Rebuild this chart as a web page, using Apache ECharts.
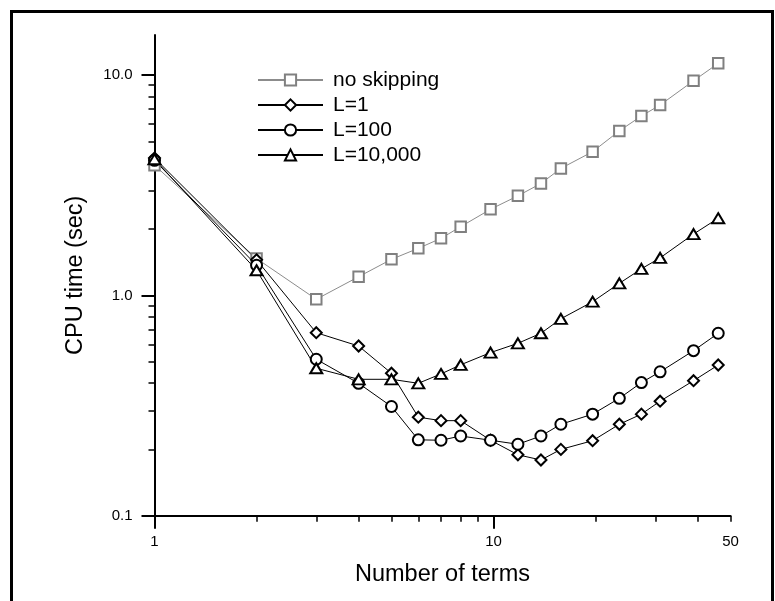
<!DOCTYPE html>
<html>
<head>
<meta charset="utf-8">
<script src="https://cdn.jsdelivr.net/npm/echarts@6/dist/echarts.min.js"></script>
<style>
html,body{margin:0;padding:0;background:#fff;}
#chart{width:775px;height:601px;}
</style>
</head>
<body>
<div id="chart"></div>
<script>
// ---- data ----
var seriesNames = ['no skipping', 'L=1', 'L=100', 'L=10,000'];
var xValues = [1, 2, 3, 4, 5, 6, 7, 8, 9.8, 11.8, 13.8, 15.8, 19.6, 23.5, 27.3, 31, 38.9, 46];
var noSkipping = [3.9, 1.47, 0.96, 1.215, 1.458, 1.635, 1.815, 2.05, 2.46, 2.83, 3.22, 3.77, 4.49, 5.58, 6.52, 7.31, 9.42, 11.3];
var L1 = [4.2, 1.45, 0.677, 0.589, 0.443, 0.28, 0.27, 0.27, 0.22, 0.189, 0.179, 0.2, 0.219, 0.26, 0.289, 0.331, 0.41, 0.483];
var L100 = [4.1, 1.37, 0.513, 0.399, 0.313, 0.221, 0.22, 0.23, 0.22, 0.211, 0.23, 0.26, 0.289, 0.341, 0.402, 0.45, 0.561, 0.673];
var L10000 = [4.15, 1.3, 0.467, 0.416, 0.416, 0.399, 0.44, 0.484, 0.55, 0.606, 0.673, 0.783, 0.936, 1.134, 1.32, 1.48, 1.898, 2.24];

var xRange = [1, 50];
var yRange = [0.1, 15.2];
var xMinorTicks = [2, 3, 4, 5, 6, 7, 8, 9, 20, 30, 40, 50];
var xMajorTicks = [1, 10];
var xTickLabels = [1, 10, 50];
var yMinorTicks = [0.2, 0.3, 0.4, 0.5, 0.6, 0.7, 0.8, 0.9, 2, 3, 4, 5, 6, 7, 8, 9];
var yMajorTicks = [0.1, 1, 10];
var yTickLabels = [0.1, 1, 10];

// ---- chart ----
var FONT = "'Liberation Sans', Arial, Helvetica, sans-serif";
var lg = function (v) { return Math.log10(v); };
function pts(ys) { return xValues.map(function (x, i) { return [lg(x), lg(ys[i])]; }); }

var chart = echarts.init(document.getElementById('chart'), null, { renderer: 'canvas' });

var baseX = { type: 'value', min: lg(xRange[0]), max: lg(xRange[1]), gridIndex: 0, position: 'bottom', splitLine: { show: false } };
var baseY = { type: 'value', min: lg(yRange[0]), max: lg(yRange[1]), gridIndex: 0, position: 'left', splitLine: { show: false } };

function markerSeries(name, ys, symbol, size, color, lineColor) {
  return {
    name: name, type: 'line', data: pts(ys), symbol: symbol, symbolSize: size,
    showSymbol: true, showAllSymbol: true, smooth: false,
    lineStyle: { color: lineColor, width: 1 },
    itemStyle: { color: '#fff', borderColor: color, borderWidth: 2 },
    emphasis: { disabled: true }
  };
}

chart.setOption({
  animation: false,
  backgroundColor: '#fff',
  textStyle: { fontFamily: FONT },
  grid: { left: 154.5, right: 44.5, top: 35, bottom: 85.3, containLabel: false },
  legend: {
    data: seriesNames, orient: 'vertical', left: 257, top: 69.5, padding: 0,
    itemWidth: 65, itemHeight: 14, itemGap: 4,
    textStyle: { fontSize: 21, fontFamily: FONT, color: '#000', lineHeight: 21, padding: [0, 0, 0, 5] },
    selectedMode: false
  },
  xAxis: [
    Object.assign({}, baseX, {
      axisLine: { show: true, onZero: false, lineStyle: { color: '#000', width: 2 } },
      axisTick: { show: true, customValues: xMinorTicks.map(lg), length: 6, lineStyle: { color: '#000', width: 1.5 } },
      axisLabel: { show: false },
      name: 'Number of terms', nameLocation: 'middle', nameGap: 47,
      nameTextStyle: { fontSize: 23.5, fontFamily: FONT, color: '#000' }
    }),
    Object.assign({}, baseX, {
      axisLine: { show: false, onZero: false },
      axisTick: { show: true, customValues: xMajorTicks.map(lg), length: 13, lineStyle: { color: '#000', width: 2 } },
      axisLabel: { show: true, customValues: xTickLabels.map(lg), margin: 19, fontSize: 15, fontFamily: FONT, color: '#000',
        formatter: function (v) { return String(Math.round(Math.pow(10, v))); } }
    })
  ],
  yAxis: [
    Object.assign({}, baseY, {
      axisLine: { show: true, onZero: false, lineStyle: { color: '#000', width: 2 } },
      axisTick: { show: true, customValues: yMinorTicks.map(lg), length: 6, lineStyle: { color: '#000', width: 1.5 } },
      axisLabel: { show: false },
      name: 'CPU time (sec)', nameLocation: 'middle', nameGap: 67,
      nameTextStyle: { fontSize: 23.5, fontFamily: FONT, color: '#000' }
    }),
    Object.assign({}, baseY, {
      axisLine: { show: false, onZero: false },
      axisTick: { show: true, customValues: yMajorTicks.map(lg), length: 13, lineStyle: { color: '#000', width: 2 } },
      axisLabel: { show: true, customValues: yTickLabels.map(lg), margin: 22, fontSize: 15, fontFamily: FONT, color: '#000',
        formatter: function (v) { return Math.pow(10, v).toFixed(1); } }
    })
  ],
  series: [
    markerSeries(seriesNames[0], noSkipping, 'rect', 10.5, '#808080', '#8c8c8c'),
    markerSeries(seriesNames[1], L1, 'diamond', 11, '#000', '#000'),
    markerSeries(seriesNames[2], L100, 'circle', 11, '#000', '#000'),
    markerSeries(seriesNames[3], L10000, 'triangle', [12, 10], '#000', '#000')
  ],
  graphic: [{
    type: 'rect', silent: true, z: 100,
    shape: { x: 11.5, y: 11.5, width: 761, height: 640 },
    style: { fill: 'none', stroke: '#000', lineWidth: 3 }
  }]
});
</script>
</body>
</html>
